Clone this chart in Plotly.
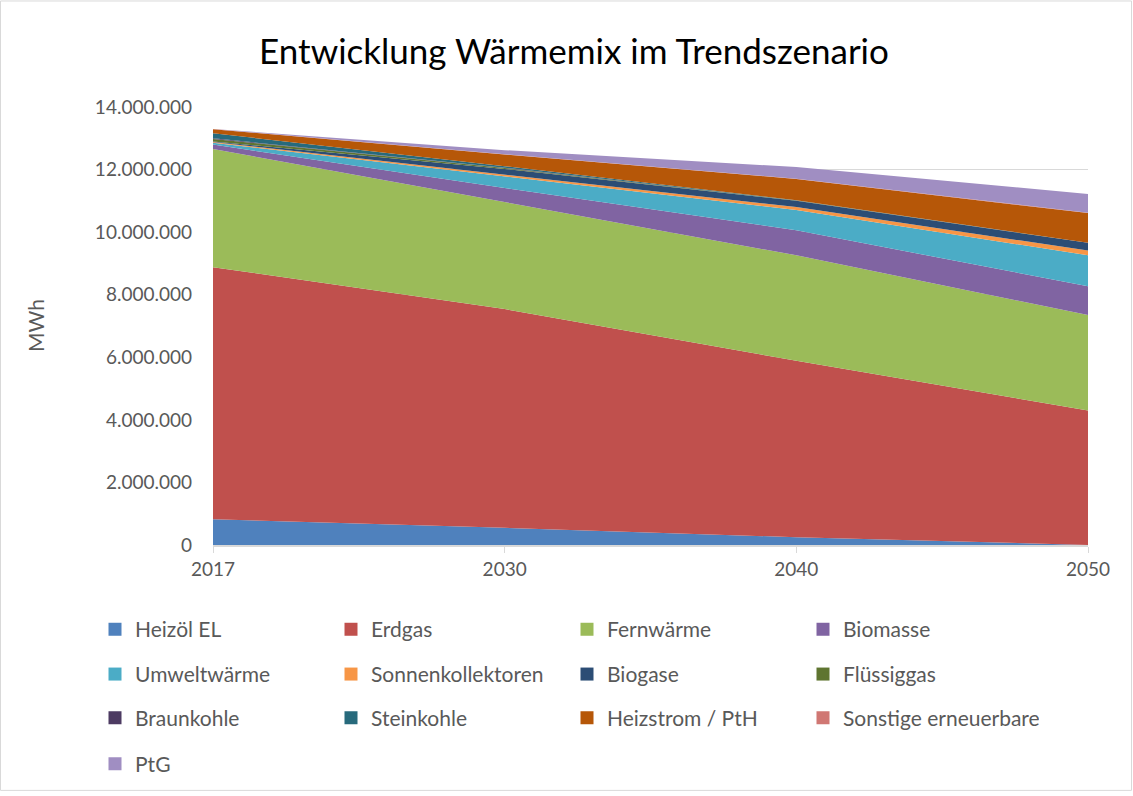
import plotly.graph_objects as go

# Jahre (Kategorien der x-Achse)
years = ["2017", "2030", "2040", "2050"]

# Wärmebedarf je Energieträger in MWh
heizoel = [820000, 550000, 250000, 0]
erdgas = [8060000, 6990000, 5640000, 4300000]
fernwaerme = [3780000, 3420000, 3370000, 3050000]
biomasse = [140000, 450000, 800000, 920000]
umweltwaerme = [60000, 380000, 650000, 990000]
sonnenkollektoren = [20000, 60000, 90000, 150000]
biogase = [20000, 170000, 200000, 250000]
fluessiggas = [80000, 30000, 10000, 0]
braunkohle = [20000, 10000, 0, 0]
steinkohle = [160000, 50000, 10000, 0]
heizstrom = [130000, 370000, 680000, 950000]
sonstige = [10000, 10000, 10000, 10000]
ptg = [0, 130000, 370000, 600000]

series_names = ["Heizöl EL", "Erdgas", "Fernwärme", "Biomasse", "Umweltwärme",
                "Sonnenkollektoren", "Biogase", "Flüssiggas", "Braunkohle",
                "Steinkohle", "Heizstrom / PtH", "Sonstige erneuerbare", "PtG"]
series_values = [heizoel, erdgas, fernwaerme, biomasse, umweltwaerme,
                 sonnenkollektoren, biogase, fluessiggas, braunkohle,
                 steinkohle, heizstrom, sonstige, ptg]
colors = ["#4F81BD", "#C0504D", "#9BBB59", "#8064A2", "#4BACC6",
          "#F79646", "#2C4D75", "#5F7530", "#4D3B62",
          "#276A7C", "#B65708", "#D07773", "#A08EC2"]

FONT = "Lato"
GREY = "#595959"

# plot area in pixels (for placing legend rows and frame)
L, R, T, B = 213, 1088, 107, 547
W_PLOT, H_PLOT = R - L, B - T


def px_x(p):
    return (p - L) / W_PLOT


def px_y(p):
    return (B - p) / H_PLOT


fig = go.Figure()

for name, vals, col in zip(series_names, series_values, colors):
    fig.add_trace(go.Scatter(
        x=years, y=vals, name=name, mode="lines", stackgroup="one",
        line=dict(width=0, color=col), fillcolor=col, showlegend=False,
        hovertemplate="%{y:,.0f} MWh<extra>" + name + "</extra>",
    ))

# legend entries: four columns, one legend per row
legend_keys = ["legend", "legend2", "legend3", "legend4"]
for i, (name, col) in enumerate(zip(series_names, colors)):
    fig.add_trace(go.Scatter(
        x=[None], y=[None], name=name, mode="markers",
        marker=dict(symbol="square", size=13, color=col),
        legend=legend_keys[i // 4], showlegend=True, hoverinfo="skip",
    ))

row_y = [632, 677, 721, 767]
legend_common = dict(
    orientation="h", xanchor="left", yanchor="middle", traceorder="normal",
    x=px_x(95), font=dict(family=FONT, size=21, color=GREY),
    entrywidth=191, entrywidthmode="pixels",
    bgcolor="rgba(0,0,0,0)", borderwidth=0,
)

fig.update_layout(
    width=1133, height=796,
    margin=dict(l=L, r=1133 - R, t=T, b=796 - B),
    paper_bgcolor="white", plot_bgcolor="white",
    separators=",.",
    title=dict(text="Entwicklung Wärmemix im Trendszenario",
               font=dict(family=FONT, size=35, color="#000000"),
               x=574 / 1133, xref="container", xanchor="center",
               y=1 - 52 / 796, yref="container", yanchor="middle"),
    xaxis=dict(type="category", range=[0, 3], showgrid=False,
               showline=True, linecolor="#D9D9D9", linewidth=1.5,
               ticks="outside", ticklen=6, tickcolor="#D9D9D9",
               tickfont=dict(family=FONT, size=19, color=GREY),
               fixedrange=True),
    yaxis=dict(range=[0, 14000000], dtick=2000000, tickformat=",.0f",
               showgrid=True, gridcolor="#D9D9D9", gridwidth=1,
               zeroline=False, showline=False, ticks="",
               ticklabelstandoff=20,
               tickfont=dict(family=FONT, size=19, color=GREY),
               fixedrange=True),
    showlegend=True,
    legend=dict(legend_common, y=px_y(row_y[0])),
    legend2=dict(legend_common, y=px_y(row_y[1])),
    legend3=dict(legend_common, y=px_y(row_y[2])),
    legend4=dict(legend_common, y=px_y(row_y[3])),
    annotations=[dict(text="MWh", textangle=-90, xref="paper", yref="paper",
                      x=px_x(35), y=px_y(327), showarrow=False,
                      xanchor="center", yanchor="middle",
                      font=dict(family=FONT, size=21, color=GREY))],
    shapes=[dict(type="rect", xref="paper", yref="paper",
                 x0=px_x(0.5), x1=px_x(1131.5), y0=px_y(793.5), y1=px_y(0.5),
                 line=dict(color="#D9D9D9", width=1), layer="below")],
)

fig.write_html("out.html")
